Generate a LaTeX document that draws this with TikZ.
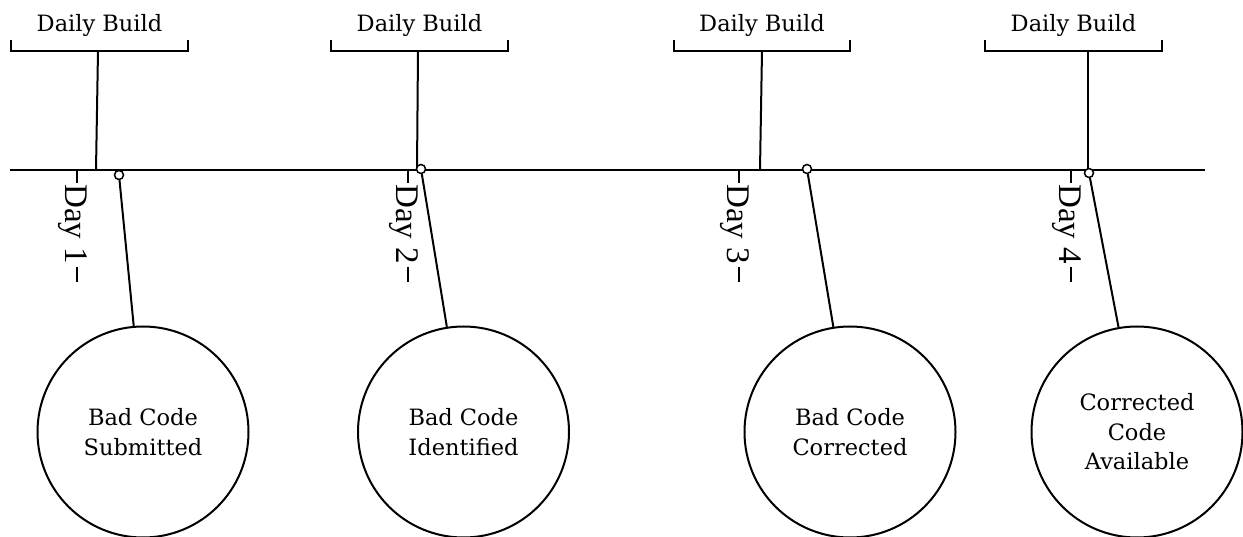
\documentclass[tikz,border=0pt]{standalone}
\usepackage{fontspec}
\setmainfont{DejaVu Serif}
\newfontfamily\dayfont{Liberation Serif}
\begin{document}
\begin{tikzpicture}[x=1pt,y=-1pt,
  ln/.style={line width=2pt, black},
  dbtext/.style={font=\fontsize{22.5}{27}\selectfont, inner sep=0pt},
  daylab/.style={font=\dayfont\fontsize{33}{33}\selectfont, rotate=-90, anchor=west, inner sep=0pt},
  dot/.style={circle, draw, line width=1.5pt, fill=white, minimum size=9pt, inner sep=0pt},
  bigc/.style={circle, draw, line width=2pt, minimum size=211pt, inner sep=0pt, align=center,
    font=\fontsize{22.5}{29.5}\selectfont}
]
\useasboundingbox (0,0) rectangle (1243,537);

% main time line
\coordinate (L0) at (10,170);
\coordinate (L1) at (1205,170);
\draw[line width=2.6pt] (L0) -- (L1);

% Daily Build brackets
\foreach \i/\l/\r/\st/\sb in {1/11/188/98/96, 2/331/508/418/417, 3/674/850/762/760, 4/985/1162/1088/1088}{
  \node[dbtext, anchor=base] (db\i) at ({(\l+\r)/2},32) {Daily Build};
  \coordinate (bl\i) at (\l,40);
  \coordinate (br\i) at (\r,40);
  \coordinate (st\i) at (\st,51);
  \coordinate (sb\i) at (\sb,170);
  \draw[ln] (bl\i) -- ++(0,11) -| (br\i);
  \draw[ln] (st\i) -- (sb\i);
}

% Day labels with ticks
\foreach \i/\x in {1/77, 2/408, 3/739, 4/1071}{
  \coordinate (tk\i) at (\x,170);
  \node[daylab] (day\i) at (\x-4,184) {Day \i};
  \draw[ln] (tk\i) -- ++(0,13);
  \draw[ln] (\x,267) -- ++(0,15);
}

% milestone dots
\node[dot] (m1) at (119,175) {};
\node[dot] (m2) at (421,169) {};
\node[dot] (m3) at (807,169) {};
\node[dot] (m4) at (1089,173) {};

% event circles
\node[bigc] (c1) at (143,432) {Bad Code\\Submitted};
\node[bigc] (c2) at (463.5,432) {Bad Code\\Identified};
\node[bigc] (c3) at (850,432) {Bad Code\\Corrected};
\node[bigc] (c4) at (1137,432) {Corrected\\Code\\Available};

\draw[ln] (m1) -- (c1.95);
\draw[ln] (m2) -- (c2.99);
\draw[ln] (m3) -- (c3.99);
\draw[ln] (m4) -- (c4.100);
\end{tikzpicture}
\end{document}
